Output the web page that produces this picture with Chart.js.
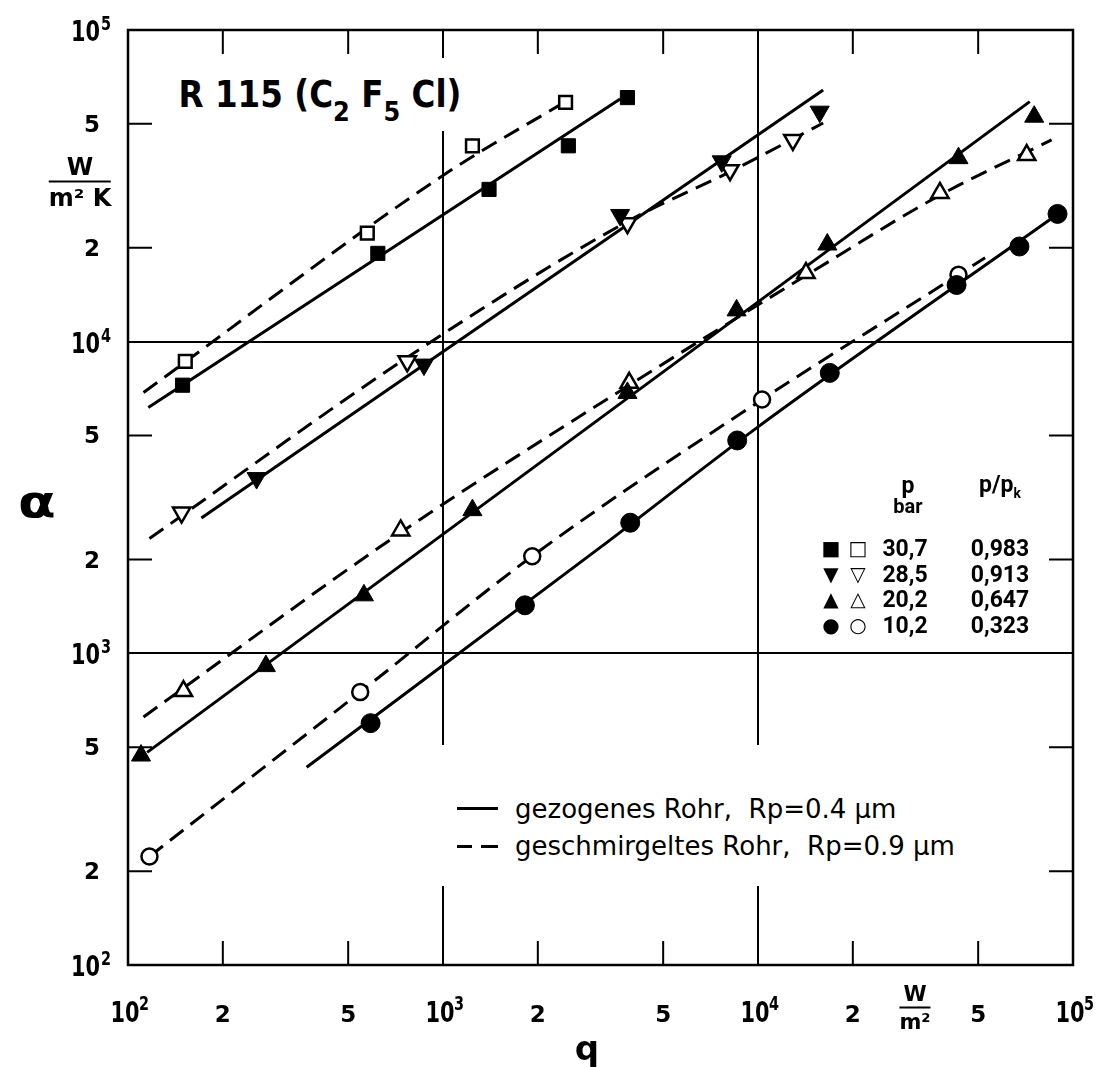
<!DOCTYPE html>
<html lang="de">
<head>
<meta charset="utf-8">
<title>R 115 (C2F5Cl) – Wärmeübergang</title>
<script src="https://cdn.jsdelivr.net/npm/chart.js@4.4.1/dist/chart.umd.min.js"></script>
<style>
  html, body { margin: 0; padding: 0; background: #fff; }
  #wrap { position: relative; width: 1099px; height: 1067px; overflow: hidden;
          font-family: "DejaVu Sans", sans-serif; color: #000; }
  #chart { position: absolute; left: 0; top: 0; }
  .lbl { position: absolute; transform: translate(-50%, -50%); white-space: nowrap; line-height: 1; }
  #title { position: absolute; left: 320px; top: 58px; font-size: 37px; font-weight: bold; line-height: 1;
           background: #fff; padding: 18px 10px; white-space: nowrap;
           transform: translateX(-50%) scaleX(0.88); }
  #title sub { font-size: 0.74em; vertical-align: -0.5em; line-height: 0; }
  .frac { text-align: center; font-weight: bold; }
  .frac .bar { border-top: 2px solid #000; margin: 2px 0 3px 0; }
  #legbox { position: absolute; left: 440px; top: 745px; width: 540px; height: 141px; background: #fff; }
  .tab { font-family: Roboto, sans-serif; font-weight: bold; font-size: 23px; }
  .sym { font-family: "DejaVu Sans", sans-serif; font-size: 20px; }
  .seg { position: absolute; height: 0; border-top: 3px solid #000; }
  .leg { position: absolute; font-size: 26px; line-height: 1; white-space: nowrap; transform: translateY(-50%); }
</style>
</head>
<body>
<div id="wrap">
  <canvas id="chart" width="1099" height="1067"></canvas>
  <div id="title">R 115 (C<sub>2</sub> F<sub>5</sub> Cl)</div>
  <div class="lbl frac" style="left:80px; top:182px; font-size:24px;"><div>W</div><div class="bar"></div><div>m² K</div></div>
  <div class="lbl" style="left:37px; top:502px; font-size:44px; font-weight:bold; transform:translate(-50%,-50%) scaleX(1.25);">α</div>
  <div class="lbl frac" style="left:915px; top:1008px; font-size:21px;"><div>W</div><div class="bar"></div><div>m²</div></div>
  <div class="lbl" style="left:587px; top:1048px; font-size:34px; font-weight:bold;">q</div>

  <div id="legbox"></div>
  <div class="seg" style="left:457px; top:807px; width:41px;"></div>
  <div class="seg" style="left:457px; top:845px; width:15px;"></div>
  <div class="seg" style="left:481px; top:845px; width:17px;"></div>
  <div class="leg" style="left:515px; top:809px;">gezogenes Rohr,&nbsp; Rp=0.4 μm</div>
  <div class="leg" style="left:515px; top:846px;">geschmirgeltes Rohr,&nbsp; Rp=0.9 μm</div>

  <div class="lbl tab" style="left:908px; top:485px;">p</div>
  <div class="lbl tab" style="left:908px; top:506px; font-size:20px;">bar</div>
  <div class="lbl tab" style="left:1000px; top:487px;">p/p<sub style="font-size:0.6em">k</sub></div>
</div>

<script>
// axis ticks (same decades on both axes)
const tickValues = [1e2, 2e2, 5e2, 1e3, 2e3, 5e3, 1e4, 2e4, 5e4, 1e5];
const tickLabels = ['10²', '2', '5', '10³', '2', '5', '10⁴', '2', '5', '10⁵'];
const supDigits = { '²': '2', '³': '3', '⁴': '4', '⁵': '5' };

// legend table
const pBar = ['30,7', '28,5', '20,2', '10,2'];
const pRatio = ['0,983', '0,913', '0,647', '0,323'];
const fillSymbols = ['■', '▼', '▲', '●'];
const openSymbols = ['□', '▽', '△', '○'];

// p = 30,7 bar
const q1Filled = [149, 621, 1400, 2500, 3850];
const a1Filled = [7250, 19200, 30800, 42500, 60700];
const q1Open = [152, 575, 1240, 2450];
const a1Open = [8650, 22300, 42500, 58600];
const q1Solid = [116, 3650];
const a1Solid = [6150, 60100];
const q1Dash = [112, 1038, 2440];
const a1Dash = [6870, 35000, 58800];

// p = 28,5 bar
const q2Filled = [256, 870, 3650, 7670, 15700];
const a2Filled = [3650, 8440, 25500, 37900, 54700];
const q2Open = [148, 770, 3850, 8150, 12900];
const a2Open = [2830, 8650, 24000, 35500, 44400];
const q2Solid = [171, 16100];
const a2Solid = [2720, 64200];
const q2Dash = [117, 769, 3840, 8150, 16100];
const a2Dash = [2335, 8890, 24260, 35080, 50300];

// p = 20,2 bar
const q3Filled = [110, 274, 561, 1240, 3850, 8550, 16600, 43300, 75300];
const a3Filled = [470, 910, 1535, 2880, 6850, 12600, 20500, 38800, 52700];
const q3Open = [150, 734, 3900, 14200, 37800, 71300];
const a3Open = [757, 2480, 7380, 16600, 30000, 39700];
const q3Solid = [115, 72900];
const a3Solid = [481, 58900];
const q3Dash = [112, 734, 3900, 14200, 37800, 85500];
const a3Dash = [625, 2440, 7250, 16300, 29500, 44400];

// p = 10,2 bar
const q4Filled = [589, 1820, 3930, 8590, 16900, 42700, 67600, 89300];
const a4Filled = [597, 1426, 2625, 4820, 7940, 15200, 20200, 25700];
const q4Open = [117, 546, 1920, 10300, 43300];
const a4Open = [223, 751, 2050, 6520, 16400];
const q4Solid = [369, 3150, 9930, 89500];
const a4Solid = [431, 2183, 5300, 25700];
const q4Dash = [117, 546, 1920, 10300, 43300, 52600];
const a4Dash = [223, 751, 2050, 6520, 16400, 18600];

// legend table rows
const wrap = document.getElementById('wrap');
function addLabel(text, x, y, cls) {
    const d = document.createElement('div');
    d.className = 'lbl ' + cls;
    d.style.left = x + 'px';
    d.style.top = y + 'px';
    d.textContent = text;
    wrap.appendChild(d);
}
pBar.forEach((p, i) => {
    const yc = 548 + i * 25.7;
    addLabel(fillSymbols[i], 831, yc, 'sym');
    addLabel(openSymbols[i], 858, yc, 'sym');
    addLabel(p, 905, yc, 'tab');
    addLabel(pRatio[i], 1000, yc, 'tab');
});

function pts(qs, as) {
    return qs.map((q, i) => ({ x: q, y: as[i] }));
}

function lineSet(label, qs, as, dashed) {
    return {
        label: label,
        data: pts(qs, as),
        showLine: true,
        pointRadius: 0,
        borderColor: '#000',
        borderWidth: 3,
        borderDash: dashed ? [17, 9] : [],
        cubicInterpolationMode: 'monotone',
        fill: false,
        order: 2
    };
}

function markSet(label, qs, as, style, filled, rotation, radius) {
    return {
        label: label,
        data: pts(qs, as),
        showLine: false,
        pointStyle: style,
        pointRotation: rotation,
        pointRadius: radius,
        pointBackgroundColor: filled ? '#000' : '#fff',
        pointBorderColor: '#000',
        pointBorderWidth: filled ? 1 : 2.5,
        order: 1
    };
}

const datasets = [
    lineSet('30,7 bar gezogen', q1Solid, a1Solid, false),
    lineSet('30,7 bar geschmirgelt', q1Dash, a1Dash, true),
    lineSet('28,5 bar gezogen', q2Solid, a2Solid, false),
    lineSet('28,5 bar geschmirgelt', q2Dash, a2Dash, true),
    lineSet('20,2 bar gezogen', q3Solid, a3Solid, false),
    lineSet('20,2 bar geschmirgelt', q3Dash, a3Dash, true),
    lineSet('10,2 bar gezogen', q4Solid, a4Solid, false),
    lineSet('10,2 bar geschmirgelt', q4Dash, a4Dash, true),
    markSet('30,7 bar', q1Filled, a1Filled, 'rect', true, 0, 10),
    markSet('30,7 bar', q1Open, a1Open, 'rect', false, 0, 9),
    markSet('28,5 bar', q2Filled, a2Filled, 'triangle', true, 180, 11),
    markSet('28,5 bar', q2Open, a2Open, 'triangle', false, 180, 10),
    markSet('20,2 bar', q3Filled, a3Filled, 'triangle', true, 0, 11),
    markSet('20,2 bar', q3Open, a3Open, 'triangle', false, 0, 10),
    markSet('10,2 bar', q4Filled, a4Filled, 'circle', true, 0, 9.5),
    markSet('10,2 bar', q4Open, a4Open, 'circle', false, 0, 8)
];

function isDecade(i) {
    return tickLabels[i].startsWith('10');
}
function isInnerMajor(i) {
    return isDecade(i) && i !== 0 && i !== tickValues.length - 1;
}

// narrow "10" like the drawing's stencil lettering
function narrowText(ctx, text, x, y, align) {
    ctx.save();
    ctx.translate(x, y);
    ctx.scale(0.72, 1);
    ctx.textAlign = align;
    ctx.fillText(text, 0, 0);
    ctx.restore();
}

// frame round the plot and the short 2 / 5 ticks on all four sides
const framePlugin = {
    id: 'frame',
    beforeDatasetsDraw(chart) {
        const { ctx, chartArea: a, scales: { x, y } } = chart;
        ctx.save();
        ctx.strokeStyle = '#000';
        ctx.lineWidth = 2.5;
        ctx.strokeRect(a.left, a.top, a.right - a.left, a.bottom - a.top);
        ctx.lineWidth = 2;
        ctx.beginPath();
        tickValues.forEach((v, i) => {
            if (isDecade(i)) return;
            const px = x.getPixelForValue(v);
            ctx.moveTo(px, a.bottom); ctx.lineTo(px, a.bottom - 24);
            ctx.moveTo(px, a.top); ctx.lineTo(px, a.top + 24);
            const py = y.getPixelForValue(v);
            ctx.moveTo(a.left, py); ctx.lineTo(a.left + 24, py);
            ctx.moveTo(a.right, py); ctx.lineTo(a.right - 24, py);
        });
        ctx.stroke();
        ctx.restore();
    },
    // tick labels with a real raised exponent
    afterDraw(chart) {
        const { ctx, chartArea: a, scales: { x, y } } = chart;
        ctx.save();
        ctx.fillStyle = '#000';
        ctx.textBaseline = 'alphabetic';
        const big = 'bold 29px "DejaVu Sans"';
        const sup = 'bold 20px "DejaVu Sans"';
        const small = 'bold 23px "DejaVu Sans"';
        tickValues.forEach((v, i) => {
            const lab = tickLabels[i];
            const px = x.getPixelForValue(v);
            const py = y.getPixelForValue(v);
            if (isDecade(i)) {
                const ex = supDigits[lab.slice(2)];
                // bottom axis
                ctx.font = big;
                narrowText(ctx, '10', px - 3, a.bottom + 57, 'center');
                ctx.font = sup;
                narrowText(ctx, ex, px + 11, a.bottom + 45, 'left');
                // left axis
                ctx.font = big;
                narrowText(ctx, '10', a.left - 28, py + 11, 'right');
                ctx.font = sup;
                narrowText(ctx, ex, a.left - 27, py, 'left');
            } else {
                ctx.font = small;
                ctx.textAlign = 'center';
                ctx.fillText(lab, px, a.bottom + 57);
                ctx.fillText(lab, a.left - 36, py + 8);
            }
        });
        ctx.restore();
    }
};

new Chart(document.getElementById('chart'), {
    type: 'scatter',
    data: { datasets: datasets },
    options: {
        responsive: false,
        animation: false,
        events: [],
        layout: { padding: { left: 10, right: 26, top: 30, bottom: 32 } },
        plugins: {
            legend: { display: false },
            tooltip: { enabled: false },
            title: { display: false }
        },
        scales: {
            x: {
                type: 'logarithmic',
                min: 100,
                max: 100000,
                afterBuildTicks: (s) => { s.ticks = tickValues.map(v => ({ value: v })); },
                afterFit: (s) => { s.height = 70; s.paddingLeft = 0; s.paddingRight = 0; },
                border: { display: false },
                grid: {
                    drawTicks: false,
                    lineWidth: 2,
                    color: (c) => isInnerMajor(c.index) ? '#000' : 'rgba(0,0,0,0)'
                },
                ticks: { display: false, autoSkip: false }
            },
            y: {
                type: 'logarithmic',
                min: 100,
                max: 100000,
                afterBuildTicks: (s) => { s.ticks = tickValues.map(v => ({ value: v })); },
                afterFit: (s) => { s.width = 118; s.paddingTop = 0; s.paddingBottom = 0; },
                border: { display: false },
                grid: {
                    drawTicks: false,
                    lineWidth: 2,
                    color: (c) => isInnerMajor(c.index) ? '#000' : 'rgba(0,0,0,0)'
                },
                ticks: { display: false, autoSkip: false }
            }
        }
    },
    plugins: [framePlugin]
});
</script>
</body>
</html>
